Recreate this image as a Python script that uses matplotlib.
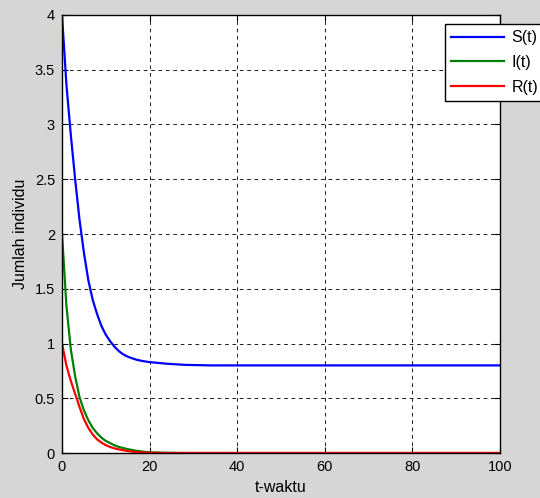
import numpy as np
import matplotlib
matplotlib.use("Agg")
import matplotlib.pyplot as plt
from matplotlib.ticker import FuncFormatter

plt.rcParams['font.family'] = ['Liberation Sans', 'DejaVu Sans']

# waktu (hari) dan jumlah individu tiap kompartemen
t = [0, 1, 2, 3, 4, 5, 6, 7, 8, 9, 10, 11, 12, 13, 14, 15, 16, 17, 18, 19, 20,
     24, 28, 34, 100]
S = [4.0, 3.37, 2.91, 2.5, 2.13, 1.83, 1.58, 1.40, 1.27, 1.16, 1.08, 1.02, 0.97,
     0.93, 0.90, 0.88, 0.865, 0.852, 0.843, 0.836, 0.83, 0.815, 0.805, 0.80, 0.80]
I = [2.0, 1.35, 0.95, 0.70, 0.51, 0.39, 0.30, 0.23, 0.18, 0.14, 0.11, 0.09, 0.07,
     0.055, 0.045, 0.035, 0.028, 0.02, 0.015, 0.01, 0.006, 0.002, 0.0, 0.0, 0.0]
R = [1.0, 0.80, 0.66, 0.54, 0.42, 0.31, 0.23, 0.17, 0.125, 0.095, 0.072, 0.055, 0.042,
     0.033, 0.025, 0.018, 0.013, 0.009, 0.006, 0.004, 0.002, 0.0, 0.0, 0.0, 0.0]

labels = ['S(t)', 'I(t)', 'R(t)']
colors = ['#0000ff', '#008000', '#ff0000']

fig = plt.figure(figsize=(5.4, 4.98), dpi=100, facecolor='#d6d6d6')
ax = fig.add_axes([62/540, 1-453/498, 438/540, 438/498])

for y, lab, c in zip([S, I, R], labels, colors):
    ax.plot(t, y, color=c, lw=1.6, label=lab)

ax.set_xlim(0, 100)
ax.set_ylim(0, 4)
ax.set_xticks(np.arange(0, 101, 20))
ax.set_yticks(np.arange(0, 4.01, 0.5))
ax.yaxis.set_major_formatter(FuncFormatter(lambda v, p: '%g' % v))
ax.tick_params(direction='in', length=4, width=0.8, labelsize=10.5, pad=5,
               top=True, right=True)
ax.grid(True, color='#1a1a1a', lw=0.7, linestyle=(0, (3.8, 3.8)))
for s in ax.spines.values():
    s.set_linewidth(1.0)
    s.set_color('k')

ax.set_xlabel('t-waktu', fontsize=11.5, labelpad=4)
ax.set_ylabel('Jumlah individu', fontsize=11.5, labelpad=5)

leg = ax.legend(loc='upper left', bbox_to_anchor=(445/540, 1-24/498),
                bbox_transform=fig.transFigure, borderaxespad=0,
                fancybox=False, framealpha=1, edgecolor='k', fontsize=11.5,
                handlelength=3.3, handletextpad=0.45, labelspacing=0.6,
                borderpad=0.4)
leg.get_frame().set_linewidth(1.0)

fig.savefig('out.png', dpi=100, facecolor=fig.get_facecolor())
